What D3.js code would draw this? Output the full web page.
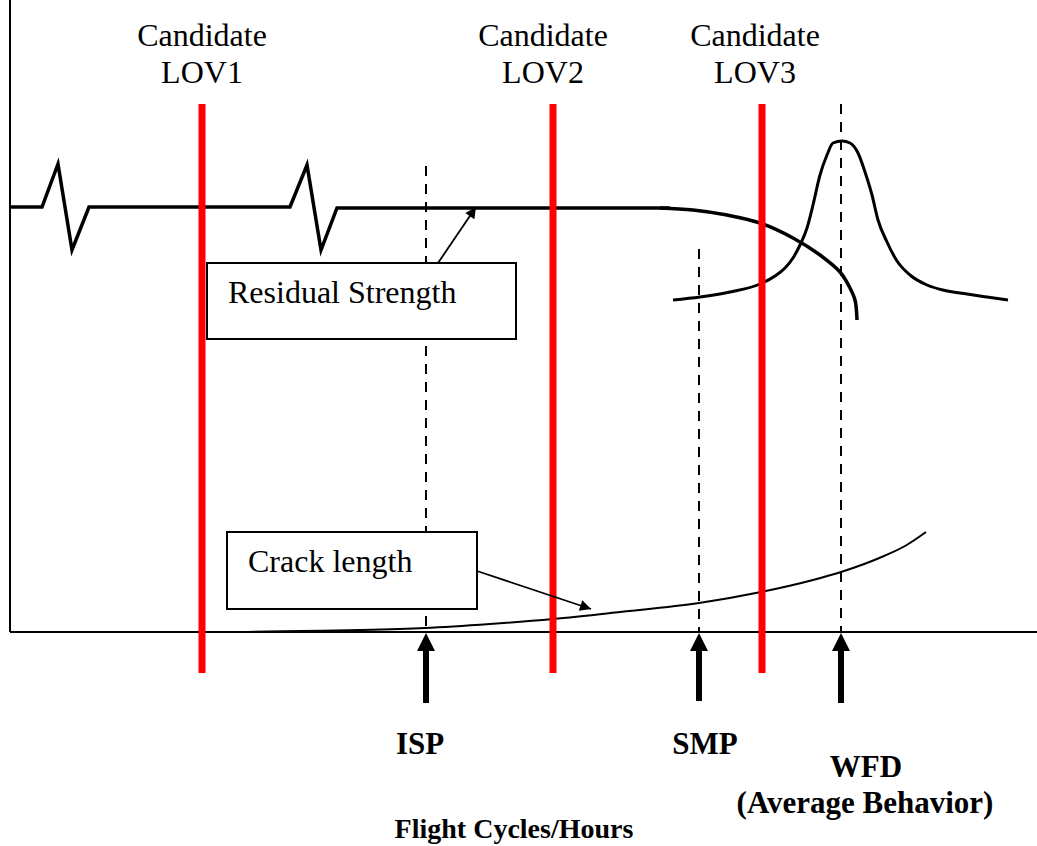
<!DOCTYPE html>
<html>
<head>
<meta charset="utf-8">
<script src="https://cdn.jsdelivr.net/npm/d3@7.9.0/dist/d3.min.js"></script>
<style>
  body { margin: 0; background: #fff; }
  svg text { font-family: "Liberation Serif", "Times New Roman", serif; fill: #000; }
</style>
</head>
<body>
<svg id="chart" width="1037" height="846"></svg>
<script>
// schematic units: x = flight cycles/hours, y = strength / crack length
const lovNames = ['LOV1', 'LOV2', 'LOV3'];
const lovX = [192, 543, 752];

const milestoneNames = ['ISP', 'SMP', 'WFD'];
const milestoneX = [416, 689, 831];
const milestoneTop = [466, 383, 528];

// residual strength: flat line with two axis-break zigzags, then the fall-off
const strengthFlat = [
  [0, 425], [32, 425], [48, 468], [62, 382], [79, 425],
  [280, 425], [297, 467], [311, 382], [327, 424], [660, 424]
];
const strengthDrop = [
  [650, 424], [683, 422], [717, 417], [750, 409], [783, 394],
  [810, 377], [830, 360], [840, 344], [845, 332], [847, 312]
];

// WFD distribution around the average behaviour
const wfdDist = [
  [663, 332], [690, 335], [720, 340], [750, 348], [765, 356], [775, 364],
  [783, 374], [790, 387], [797, 404], [803, 427], [810, 457],
  [817, 477], [823, 489], [832, 491], [840, 489], [848, 479], [855, 460],
  [862, 437], [868, 412], [877, 390], [887, 371], [900, 357], [917, 347],
  [933, 342], [957, 338], [977, 335], [998, 332]
];

// crack length growth
const crack = [
  [237, 0], [290, 1], [350, 2], [415, 4], [480, 8], [543, 13], [610, 20],
  [689, 29], [751, 40], [803, 52], [831, 60], [874, 76], [895, 86], [916, 100]
];

const svg = d3.select('#chart');

const x = d3.scaleLinear().domain([0, 1027]).range([10, 1037]);
const y = d3.scaleLinear().domain([0, 632]).range([632, 0]);

// arrowhead marker for the callouts
svg.append('defs').append('marker')
  .attr('id', 'head')
  .attr('viewBox', '0 0 10 10')
  .attr('refX', 10).attr('refY', 5)
  .attr('markerUnits', 'userSpaceOnUse')
  .attr('markerWidth', 15).attr('markerHeight', 11)
  .attr('orient', 'auto')
  .append('path').attr('d', 'M0,0 L10,5 L0,10 z').attr('fill', '#000');

// axes (plain lines, no ticks)
svg.append('line')
  .attr('x1', x(0)).attr('x2', x(0)).attr('y1', y(632)).attr('y2', y(0))
  .attr('stroke', '#000').attr('stroke-width', 2);
svg.append('line')
  .attr('x1', x(0)).attr('x2', x(1027)).attr('y1', y(0)).attr('y2', y(0))
  .attr('stroke', '#000').attr('stroke-width', 2);

// dashed milestone lines
milestoneX.forEach((m, i) => {
  svg.append('line')
    .attr('x1', x(m)).attr('x2', x(m))
    .attr('y1', y(milestoneTop[i])).attr('y2', y(0))
    .attr('stroke', '#000').attr('stroke-width', 2)
    .attr('stroke-dasharray', '10,8');
});

const line = d3.line().x(d => x(d[0])).y(d => y(d[1]));

svg.append('path')
  .attr('d', line(strengthFlat))
  .attr('fill', 'none').attr('stroke', '#000').attr('stroke-width', 3.5)
  .attr('stroke-linejoin', 'miter');

svg.append('path')
  .attr('d', line.curve(d3.curveCatmullRom)(strengthDrop))
  .attr('fill', 'none').attr('stroke', '#000').attr('stroke-width', 3.5);

svg.append('path')
  .attr('d', line.curve(d3.curveMonotoneX)(wfdDist))
  .attr('fill', 'none').attr('stroke', '#000').attr('stroke-width', 3);

svg.append('path')
  .attr('d', line.curve(d3.curveMonotoneX)(crack))
  .attr('fill', 'none').attr('stroke', '#000').attr('stroke-width', 2);

// candidate LOV lines
lovX.forEach(v => {
  svg.append('line')
    .attr('x1', x(v)).attr('x2', x(v))
    .attr('y1', y(528)).attr('y2', y(-41))
    .attr('stroke', '#ff0000').attr('stroke-width', 7);
});

const lovLabelShift = [0, -10, -7];
lovNames.forEach((name, i) => {
  const t = svg.append('text')
    .attr('x', x(lovX[i]) + lovLabelShift[i])
    .attr('text-anchor', 'middle')
    .attr('font-size', 32);
  t.append('tspan').attr('x', x(lovX[i]) + lovLabelShift[i]).attr('y', 46).text('Candidate');
  t.append('tspan').attr('x', x(lovX[i]) + lovLabelShift[i]).attr('y', 83).text(name);
});

// callout boxes
function callout(box, label, from, to) {
  svg.append('line')
    .attr('x1', x(from[0])).attr('y1', y(from[1]))
    .attr('x2', x(to[0])).attr('y2', y(to[1]))
    .attr('stroke', '#000').attr('stroke-width', 1.8)
    .attr('marker-end', 'url(#head)');
  svg.append('rect')
    .attr('x', x(box[0])).attr('y', y(box[3]))
    .attr('width', x(box[2]) - x(box[0]))
    .attr('height', y(box[1]) - y(box[3]))
    .attr('fill', '#fff').attr('stroke', '#000').attr('stroke-width', 2);
  svg.append('text')
    .attr('x', x(box[0]) + 21).attr('y', y(box[3]) + 40)
    .attr('font-size', 32)
    .text(label);
}
callout([197, 293, 506, 369], 'Residual Strength', [428, 369], [466, 425]);
callout([217, 23, 467, 100], 'Crack length', [467, 61], [581, 23]);

// milestone arrows below the axis
const arrowBottom = [-71, -69, -71];
milestoneX.forEach((m, i) => {
  const cx = x(m), tip = y(-1), base = tip + 18, bottom = y(arrowBottom[i]);
  svg.append('path')
    .attr('d', `M${cx},${tip} L${cx + 9},${base} L${cx + 3},${base} L${cx + 3},${bottom}` +
               ` L${cx - 3},${bottom} L${cx - 3},${base} L${cx - 9},${base} Z`)
    .attr('fill', '#000');
});

const milestoneLabelShift = [-6, 6, 25];
const milestoneBaseline = [754, 754, 777];
milestoneNames.forEach((name, i) => {
  svg.append('text')
    .attr('x', x(milestoneX[i]) + milestoneLabelShift[i])
    .attr('y', milestoneBaseline[i])
    .attr('text-anchor', 'middle')
    .attr('font-size', 31).attr('font-weight', 'bold')
    .text(name);
});
svg.append('text')
  .attr('x', x(milestoneX[2]) + 24).attr('y', 813)
  .attr('text-anchor', 'middle')
  .attr('font-size', 31).attr('font-weight', 'bold')
  .text('(Average Behavior)');

svg.append('text')
  .attr('x', 514).attr('y', 838)
  .attr('text-anchor', 'middle')
  .attr('font-size', 28).attr('font-weight', 'bold')
  .text('Flight Cycles/Hours');
</script>
</body>
</html>
